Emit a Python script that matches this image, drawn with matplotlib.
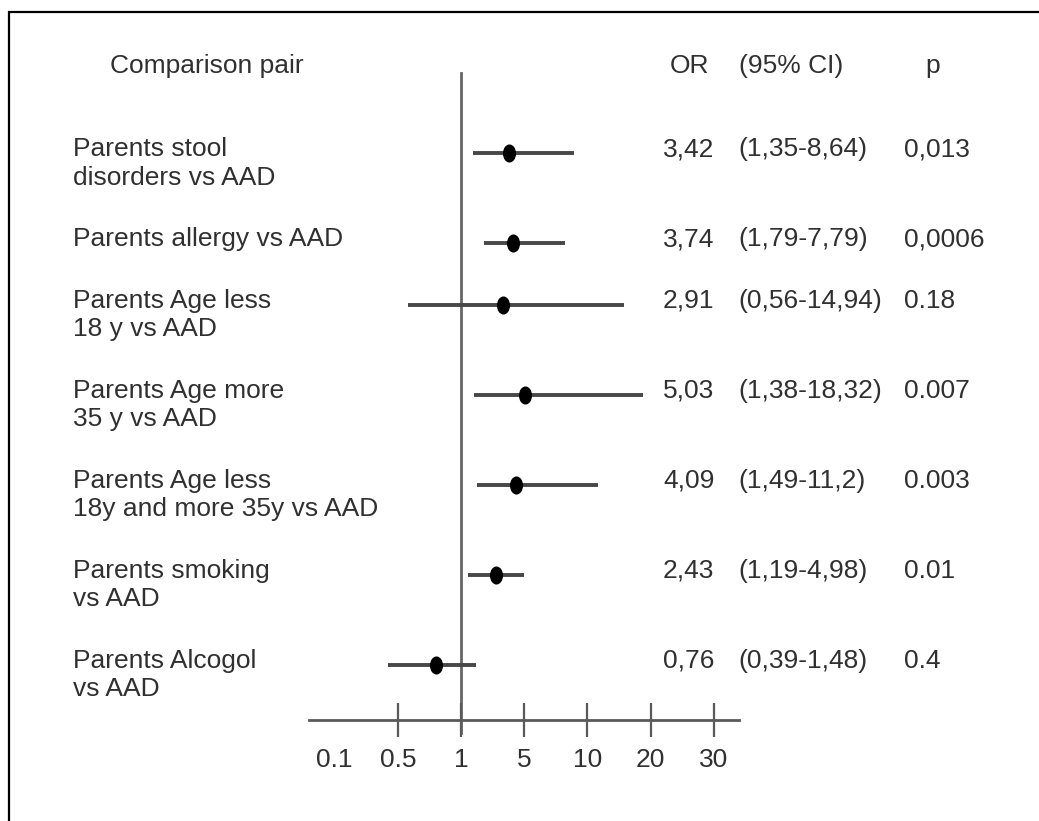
import numpy as np
import matplotlib
matplotlib.use("Agg")
import matplotlib.pyplot as plt
from matplotlib import transforms
from matplotlib.path import Path
from matplotlib.patches import Rectangle

# ---------------- data ----------------
labels = ["Parents stool\ndisorders vs AAD",
          "Parents allergy vs AAD",
          "Parents Age less\n18 y vs AAD",
          "Parents Age more\n35 y vs AAD",
          "Parents Age less\n18y and more 35y vs AAD",
          "Parents smoking\nvs AAD",
          "Parents Alcogol\nvs AAD"]
or_vals = [3.42, 3.74, 2.91, 5.03, 4.09, 2.43, 0.76]
ci_low = [1.35, 1.79, 0.56, 1.38, 1.49, 1.19, 0.39]
ci_high = [8.64, 7.79, 14.94, 18.32, 11.2, 4.98, 1.48]
or_text = ["3,42", "3,74", "2,91", "5,03", "4,09", "2,43", "0,76"]
ci_text = ["(1,35-8,64)", "(1,79-7,79)", "(0,56-14,94)", "(1,38-18,32)",
           "(1,49-11,2)", "(1,19-4,98)", "(0,39-1,48)"]
p_text = ["0,013", "0,0006", "0.18", "0.007", "0.003", "0.01", "0.4"]
tick_vals = [0.1, 0.5, 1, 5, 10, 20, 30]
tick_labels = ["0.1", "0.5", "1", "5", "10", "20", "30"]

# ---------------- scale: equal spacing between the printed ticks (log-interpolated) ----------------
LT = np.log10(np.array(tick_vals, dtype=float))
U = np.arange(len(tick_vals), dtype=float)


def _pw(x, src, dst):
    x = np.asarray(x, dtype=float)
    idx = np.clip(np.searchsorted(src, x) - 1, 0, len(src) - 2)
    return dst[idx] + (x - src[idx]) / (src[idx + 1] - src[idx]) * (dst[idx + 1] - dst[idx])


def fwd(x):
    x = np.clip(np.asarray(x, dtype=float), 1e-9, None)
    return _pw(np.log10(x), LT, U)


def inv(u):
    return 10 ** _pw(u, U, LT)


# ---------------- figure ----------------
W, H = 1039, 821
fig = plt.figure(figsize=(W / 100, H / 100), dpi=100)
fig.patch.set_facecolor("white")

FONT = "Liberation Sans"
FS = 19
TXT = "#303030"
GRAY = "#5a5a5a"

ax_left, ax_right = 309, 739
ax_top, ax_bot = 73, 720
ax = fig.add_axes([ax_left / W, 1 - ax_bot / H, (ax_right - ax_left) / W, (ax_bot - ax_top) / H])
ax.set_facecolor("none")
ax.set_xscale("function", functions=(fwd, inv))

# pixel mapping: u -> px ; tick 1 at 461 px, spacing ~63.2 px
px0, du = 334.6, 63.2
ax.set_xlim(inv((ax_left - px0) / du), inv((ax_right - px0) / du))
ax.set_ylim(ax_bot, ax_top)  # y in pixels from top

for s in ["top", "left", "right"]:
    ax.spines[s].set_visible(False)
ax.spines["bottom"].set_color(GRAY)
ax.spines["bottom"].set_linewidth(2.0)
ax.set_yticks([])
ax.set_xticks(tick_vals)
ax.set_xticklabels(tick_labels, fontsize=FS, family=FONT, color=TXT)
ax.tick_params(axis="x", direction="inout", length=24.5, width=1.6, color=GRAY, pad=8)
ax.xaxis.get_major_ticks()[0].tick1line.set_visible(False)
ax.xaxis.set_minor_locator(matplotlib.ticker.NullLocator())

# row layout derived from number of label lines
row_y = []
y = 149.0
for lab in labels:
    row_y.append(y)
    y += 33 + 28.5 * len(lab.split("\n"))
row_y = np.array(row_y)
mark_y = row_y + 4

# reference line at OR = 1
ax.axvline(1, ymin=-0.02, ymax=1, color="#666666", lw=2.0, clip_on=False, zorder=1)

# CI lines and points
ax.hlines(mark_y, ci_low, ci_high, color="#474747", lw=2.8, zorder=2)
ell = Path.unit_circle().transformed(transforms.Affine2D().scale(0.7, 1.0))
ax.plot(or_vals, mark_y, linestyle="none", marker=ell, markersize=12,
        color="black", zorder=3)

# texts
tr = transforms.blended_transform_factory(fig.transFigure, ax.transData)
kw = dict(fontsize=FS, family=FONT, color=TXT, va="center", ha="left",
          transform=tr, clip_on=False)

header_y = 66
ax.text(110 / W, header_y, "Comparison pair", **kw)
ax.text(670 / W, header_y, "OR", **kw)
ax.text(739 / W, header_y, "(95% CI)", **kw)
ax.text(925 / W, header_y, "p", **kw)

LINE = 28.5
for i, lab in enumerate(labels):
    for k, line in enumerate(lab.split("\n")):
        ax.text(73 / W, row_y[i] + k * LINE, line, **kw)
    ax.text(663 / W, row_y[i], or_text[i], **kw)
    ax.text(738 / W, row_y[i], ci_text[i], **kw)
    ax.text(904 / W, row_y[i], p_text[i], **kw)

# outer frame (top and left edges visible)
fig.add_artist(Rectangle((9 / W, -0.2), 2.0, (1 - 12 / H) + 0.2, transform=fig.transFigure,
                         fill=False, edgecolor="black", lw=1.6))

fig.savefig("out.png", dpi=100, facecolor="white")
